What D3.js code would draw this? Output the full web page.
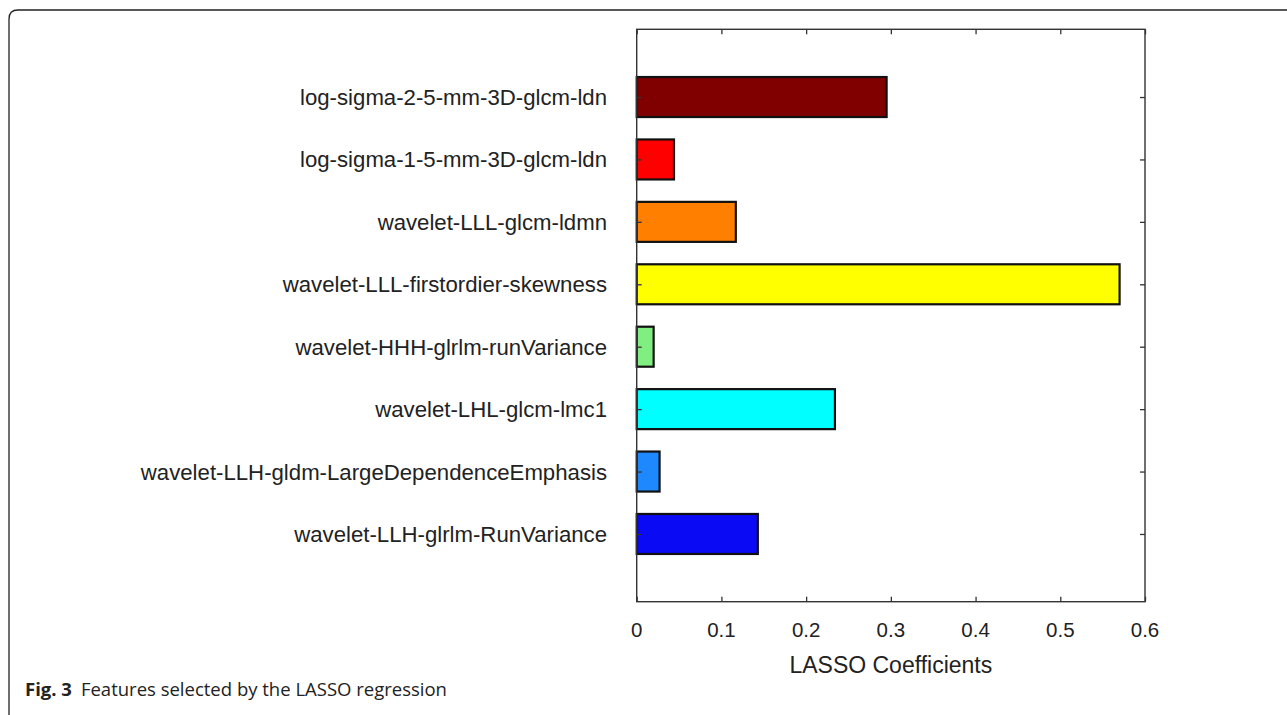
<!DOCTYPE html>
<html>
<head>
<meta charset="utf-8">
<script src="https://cdn.jsdelivr.net/npm/d3@7"></script>
<style>
  html, body { margin: 0; padding: 0; background: #fff; }
  svg { display: block; }
</style>
</head>
<body>
<svg id="chart" width="1287" height="715"></svg>
<script>
const categories = [
  "log-sigma-2-5-mm-3D-glcm-ldn",
  "log-sigma-1-5-mm-3D-glcm-ldn",
  "wavelet-LLL-glcm-ldmn",
  "wavelet-LLL-firstordier-skewness",
  "wavelet-HHH-glrlm-runVariance",
  "wavelet-LHL-glcm-lmc1",
  "wavelet-LLH-gldm-LargeDependenceEmphasis",
  "wavelet-LLH-glrlm-RunVariance"
];
const values = [0.295, 0.044, 0.117, 0.570, 0.020, 0.234, 0.027, 0.143];
const barColors = ["#800000", "#FF0000", "#FF8000", "#FFFF00", "#80EE80", "#00FFFF", "#1E88FF", "#0A0AF5"];
const xTicks = [0, 0.1, 0.2, 0.3, 0.4, 0.5, 0.6];
const xLabel = "LASSO Coefficients";
const captionBold = "Fig. 3";
const captionText = "Features selected by the LASSO regression";

(function () {
const svg = d3.select("#chart");
const L = 636.7, R = 1145, T = 29.3, B = 601.7;

const x = d3.scaleLinear().domain([0, 0.6]).range([L, R]);
const y = d3.scaleLinear().domain([-1.085, categories.length - 1 + 1.085]).range([T, B]);
const barH = 40;

// frame
svg.append("path")
  .attr("d", `M9,715 L9,19 Q9,10 18,10 L1287,10`)
  .attr("fill", "none").attr("stroke", "#222").attr("stroke-width", 1.3);

// bars
svg.append("g").selectAll("rect").data(values).join("rect")
  .attr("x", x(0))
  .attr("y", (d, i) => y(i) - barH / 2)
  .attr("width", d => x(d) - x(0))
  .attr("height", barH)
  .attr("fill", (d, i) => barColors[i])
  .attr("stroke", "#111").attr("stroke-width", 2.2);

// axes (inward ticks)
const axisColor = "#333";
const gBottom = svg.append("g").attr("transform", `translate(0,${B})`)
  .call(d3.axisBottom(x).tickValues(xTicks).tickSize(-5).tickFormat(""));
const gTop = svg.append("g").attr("transform", `translate(0,${T})`)
  .call(d3.axisTop(x).tickValues(xTicks).tickSize(-5).tickFormat(""));
const yIdx = d3.range(categories.length);
const gLeft = svg.append("g").attr("transform", `translate(${L},0)`)
  .call(d3.axisLeft(y).tickValues(yIdx).tickSize(-5).tickFormat(""));
const gRight = svg.append("g").attr("transform", `translate(${R},0)`)
  .call(d3.axisRight(y).tickValues(yIdx).tickSize(-5).tickFormat(""));
[gBottom, gTop, gLeft, gRight].forEach(g => {
  g.select(".domain").remove();
  g.selectAll(".tick line").attr("stroke", axisColor).attr("stroke-width", 1.3);
});
svg.append("rect").attr("x", L).attr("y", T).attr("width", R - L).attr("height", B - T)
  .attr("fill", "none").attr("stroke", axisColor).attr("stroke-width", 1.4);

// tick labels
svg.append("g").selectAll("text").data(xTicks).join("text")
  .attr("x", d => x(d)).attr("y", 637)
  .attr("text-anchor", "middle")
  .attr("font-family", "Liberation Sans, Arial, sans-serif")
  .attr("font-size", 20.5).attr("fill", "#222")
  .text(d => d3.format("")(d));

// category labels
svg.append("g").selectAll("text").data(categories).join("text")
  .attr("x", 607).attr("y", (d, i) => y(i) + 8)
  .attr("text-anchor", "end")
  .attr("font-family", "Liberation Sans, Arial, sans-serif")
  .attr("font-size", 22.2).attr("fill", "#222")
  .text(d => d);

// x label
svg.append("text").attr("x", (L + R) / 2).attr("y", 673)
  .attr("text-anchor", "middle")
  .attr("font-family", "Liberation Sans, Arial, sans-serif")
  .attr("font-size", 23).attr("fill", "#222")
  .text(xLabel);

// caption
const cap = svg.append("text").attr("x", 25).attr("y", 696)
  .attr("font-family", "Open Sans, Noto Sans, sans-serif")
  .attr("font-size", 18.5).attr("fill", "#222");
cap.append("tspan").attr("font-weight", "bold").text(captionBold);
cap.append("tspan").attr("dx", 9).text(captionText);
})();
</script>
</body>
</html>
